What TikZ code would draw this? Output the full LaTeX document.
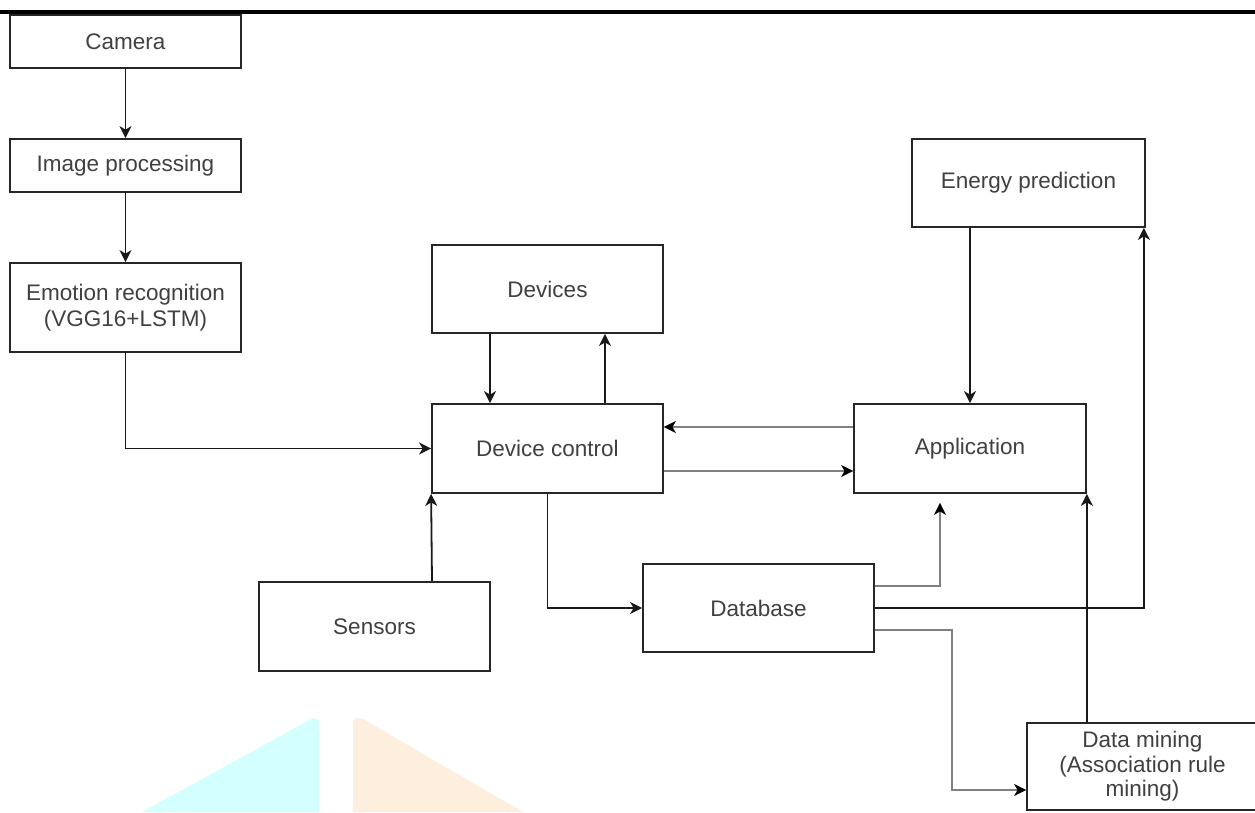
\documentclass[tikz,border=0pt]{standalone}
\usepackage{fontspec}
\setmainfont{Liberation Sans}
\usetikzlibrary{arrows.meta,calc}
\definecolor{txt}{HTML}{404040}
\definecolor{wmcyan}{HTML}{D3FFFF}
\definecolor{wmpeach}{HTML}{FDEEDD}
\definecolor{lgray}{HTML}{808080}
\tikzset{
  box/.style={draw=black!85, line width=1.8pt, fill=white, minimum width=231pt, inner sep=0pt,
    align=center, text=txt, font=\fontsize{22.5}{26}\selectfont},
  conn/.style={draw=black!90, line width=1.8pt, -{Stealth[length=12pt,width=12pt,inset=3.5pt]}},
  gconn/.style={draw=lgray, line width=2.6pt, -{Stealth[length=12pt,width=12pt,inset=3.5pt,color=black,line width=0.5pt]}},
}
\begin{document}
\begin{tikzpicture}[x=1pt,y=-1pt]
\useasboundingbox (0,0) rectangle (1255,812);
% watermark shapes
\fill[wmcyan] (142,812) -- (313,718) -- (319,720) -- (319,812) -- cycle;
\fill[wmpeach] (353,721) -- (357,718) -- (363,719) -- (523,812) -- (353,812) -- cycle;
% top rule
\fill[black] (0,10) rectangle (1255,14);
% nodes
\node[box, minimum height=53pt] (cam) at (125.5,41.5) {Camera};
\node[box, minimum height=53pt] (img) at (125.5,165.5) {Image processing};
\node[box, minimum height=89pt] (emo) at (125.5,307.5) {Emotion recognition\\(VGG16+LSTM)};
\node[box, minimum height=88pt] (dev) at (547.5,289) {Devices};
\node[box, minimum height=89pt] (dc) at (547.5,448.5) {Device control};
\node[box, minimum height=89pt] (sen) at (374.5,626.5) {Sensors};
\node[box, minimum height=88pt] (db) at (758.5,608) {Database};
\node[box, minimum height=89pt, minimum width=232pt] (app) at (970,448.5) {Application};
\node[box, minimum height=88pt, minimum width=233pt] (en) at (1028.5,183) {Energy prediction};
\node[box, minimum height=87pt, minimum width=231pt, font=\fontsize{22.5}{24.5}\selectfont] (dm) at (1142.5,766.5) {Data mining\\(Association rule\\mining)};
% connectors
\draw[conn] (cam) -- (img);
\draw[conn] (img) -- (emo);
\draw[conn] (emo.south) |- (dc.west);
\draw[conn] ([xshift=-57.5pt]dev.south) -- ([xshift=-57.5pt]dc.north);
\draw[conn] ([xshift=57.5pt]dc.north) -- ([xshift=57.5pt]dev.south);
\draw[gconn] ([yshift=21.5pt]app.west) -- ([yshift=21.5pt]app.west -| dc.east);
\draw[gconn] ([yshift=-22.5pt]dc.east) -- ([yshift=-22.5pt]dc.east -| app.west);
\draw[conn] ([xshift=57.5pt]sen.north) -- (dc.south west);
\draw[conn] (dc.south) |- (db.west);
\coordinate (a1) at ([xshift=-30pt,yshift=-9pt]app.south);
\draw[gconn] ([yshift=22pt]db.east) -| (a1);
\draw[conn] (db.east) -| ([xshift=-2pt]en.south east);
\draw[gconn] ([yshift=-22pt]db.east) -- ++(77pt,0) |- ([yshift=-23.5pt]dm.west);
\draw[conn] (dm.north -| app.south east) -- (app.south east);
\draw[conn] (en.south -| app.north) -- (app.north);
\end{tikzpicture}
\end{document}
